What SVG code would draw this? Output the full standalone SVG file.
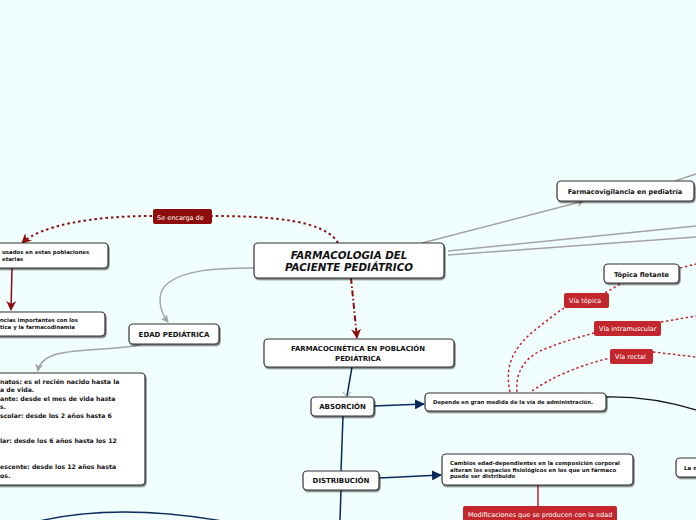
<svg xmlns="http://www.w3.org/2000/svg" width="696" height="520" viewBox="0 0 696 520">
<defs>
<style>
.node{fill:#ffffff;stroke:#333333;stroke-width:1.2;filter:url(#sh)}
.t{font-family:"DejaVu Sans",Verdana,sans-serif;font-weight:bold;fill:#111111}
.lbl{font-family:"DejaVu Sans",Verdana,sans-serif;fill:#ffffff;font-size:6.5px}
.gray{fill:none;stroke:#a3a3a3;stroke-width:1.5}
.navy{fill:none;stroke:#0b2a5b;stroke-width:1.5}
.dred{fill:none;stroke:#8e0c0c;stroke-width:2;stroke-dasharray:2.5 3}
.lred{fill:none;stroke:#c1272d;stroke-width:1.5;stroke-dasharray:2.5 2.5}
</style>
<filter id="sh" x="-10%" y="-20%" width="120%" height="150%">
<feDropShadow dx="1" dy="1.5" stdDeviation="0.6" flood-color="#000" flood-opacity="0.55"/>
</filter>
<marker id="ag" markerWidth="8" markerHeight="8" refX="7" refY="4" orient="auto" markerUnits="userSpaceOnUse"><path d="M0,0 L8,4 L0,8 L2,4 Z" fill="#a3a3a3"/></marker>
<marker id="an" markerWidth="10" markerHeight="10" refX="9" refY="5" orient="auto" markerUnits="userSpaceOnUse"><path d="M0,0 L10,5 L0,10 Z" fill="#0b2a5b"/></marker>
<marker id="ar" markerWidth="10" markerHeight="10" refX="9" refY="5" orient="auto" markerUnits="userSpaceOnUse"><path d="M0,0 L10,5 L0,10 L3,5 Z" fill="#8e0c0c"/></marker>
</defs>
<rect width="696" height="520" fill="#f0fefe"/>
<g id="connectors">
<path class="gray" d="M422,243 L584,201" marker-end="url(#ag)"/>
<path class="gray" d="M675,181 L696,174"/>
<path class="gray" d="M448,251 L696,226"/>
<path class="gray" d="M448,255 L696,237"/>
<path class="gray" d="M254,268 C215,268 185,270 168,283 C155,293 160,312 168,322" marker-end="url(#ag)"/>
<path class="gray" d="M140,345 C100,353 42,344 38,371" marker-end="url(#ag)"/>
<path class="dred" d="M338,243 C325,220 270,216 212,216"/>
<path class="dred" d="M152,216 C90,216 40,226 22,243" marker-end="url(#ar)"/>
<path d="M12,268 L11,310" fill="none" stroke="#8e0c0c" stroke-width="1.5" marker-end="url(#ar)"/>
<path d="M351,278 L357,338" fill="none" stroke="#8e0c0c" stroke-width="2" stroke-dasharray="6 2.5 1.5 2.5" marker-end="url(#ar)"/>
<path class="navy" d="M352,367 L347,396"/>
<path d="M343,392 L347,397 L351,392" fill="none" stroke="#a3a3a3" stroke-width="1"/>
<path class="navy" d="M374,406 L424,404" marker-end="url(#an)"/>
<path class="navy" d="M343,416 L341,471"/>
<path class="navy" d="M341,490 L340,520"/>
<path class="navy" d="M379,478 L441,475" marker-end="url(#an)"/>
<path class="navy" d="M35,522 Q117,502 228,522"/>
<path d="M606,397 Q650,396 696,410" fill="none" stroke="#111" stroke-width="1.3"/>
<path d="M538,485 L538,506" fill="none" stroke="#c1272d" stroke-width="1.5"/>
<path class="lred" d="M510,392 C505,370 510,350 535,330 C545,322 555,314 564,308"/>
<path class="lred" d="M605,293 L620,284"/>
<path class="lred" d="M680,268 L696,264"/>
<path class="lred" d="M517,392 C515,372 525,355 550,347 C565,341 580,337 594,333"/>
<path class="lred" d="M661,322 L696,316"/>
<path class="lred" d="M532,391 C550,378 580,365 610,358"/>
<path class="lred" d="M653,352 L696,357"/>
</g>
<g id="main"><rect class="node" x="254" y="243" width="190" height="35" rx="4"/>
<text class="t" font-size="10.3" font-style="italic" text-anchor="middle"><tspan x="349" y="259">FARMACOLOGIA DEL</tspan><tspan x="349" y="271">PACIENTE PEDIÁTRICO</tspan></text></g>
<g id="se-encarga"><rect x="153" y="209" width="59" height="15" rx="2" fill="#8e0c0c"/><text class="lbl" x="157" y="219.5">Se encarga de</text></g>
<g id="n-usados"><rect class="node" x="-10" y="243" width="118" height="25" rx="4"/>
<text class="t" font-size="5.4"><tspan x="2" y="254">usados en estas poblaciones</tspan><tspan x="2" y="260.5">etarias</tspan></text></g>
<g id="n-ncias"><rect class="node" x="-10" y="312" width="115" height="24" rx="4"/>
<text class="t" font-size="5.4"><tspan x="0" y="322">ncias importantes con los</tspan><tspan x="0" y="328.5">tica y la farmacodinamia</tspan></text></g>
<g id="edad"><rect class="node" x="129" y="324" width="90" height="20" rx="4"/><text class="t" font-size="7" x="174" y="337" text-anchor="middle">EDAD PEDIÁTRICA</text></g>
<g id="edades"><rect class="node" x="-10" y="373" width="155" height="112" rx="4"/>
<text class="t" font-size="6.2"><tspan x="0" y="384">natos: es el recién nacido hasta la</tspan><tspan x="0" y="392">a de vida.</tspan><tspan x="0" y="401">ante: desde el mes de vida hasta</tspan><tspan x="0" y="409">s.</tspan><tspan x="0" y="418">scolar: desde los 2 años hasta 6</tspan><tspan x="0" y="443">lar: desde los 6 años hasta los 12</tspan><tspan x="0" y="469">escente: desde los 12 años hasta</tspan><tspan x="0" y="478">os.</tspan></text></g>
<g id="farmacocinetica"><rect class="node" x="264" y="339" width="190" height="28" rx="4"/>
<text class="t" font-size="6.9" text-anchor="middle"><tspan x="358" y="351">FARMACOCINÉTICA EN POBLACIÓN</tspan><tspan x="358" y="360.5">PEDIÁTRICA</tspan></text></g>
<g id="absorcion"><rect class="node" x="311" y="397" width="63" height="19" rx="4"/><text class="t" font-size="7" x="342.5" y="409" text-anchor="middle">ABSORCIÓN</text></g>
<g id="distribucion"><rect class="node" x="303" y="471" width="76" height="19" rx="4"/><text class="t" font-size="7" x="341" y="483" text-anchor="middle">DISTRIBUCIÓN</text></g>
<g id="depende"><rect class="node" x="425" y="393" width="181" height="18" rx="4"/><text class="t" font-size="5.3" x="433" y="404">Depende en gran medida de la vía de administración.</text></g>
<g id="cambios"><rect class="node" x="442" y="454" width="191" height="31" rx="4"/>
<text class="t" font-size="5.4"><tspan x="450" y="465">Cambios edad-dependientes en la composición corporal</tspan><tspan x="450" y="471.5">alteran los espacios fisiológicos en los que un fármaco</tspan><tspan x="450" y="478">puede ser distribuido</tspan></text></g>
<g id="modificaciones"><rect x="463" y="506" width="154" height="20" rx="2" fill="#c1272d"/><text class="lbl" font-size="6.4" x="468" y="516.5">Modificaciones que se producen con la edad</text></g>
<g id="la-m"><rect class="node" x="676" y="458" width="40" height="19" rx="4"/><text class="t" font-size="5.5" x="684" y="469.5">La m</text></g>
<g id="farmacovigilancia"><rect class="node" x="557" y="181" width="137" height="20" rx="4"/><text class="t" font-size="6.6" x="625" y="193.5" text-anchor="middle">Farmacovigilancia en pediatría</text></g>
<g id="topica-flotante"><rect class="node" x="604" y="264" width="75" height="19" rx="4"/><text class="t" font-size="6.6" x="641.5" y="276.5" text-anchor="middle">Tópica flotante</text></g>
<g id="via-topica"><rect x="564" y="293" width="45" height="15" rx="2" fill="#c1272d"/><text class="lbl" x="569" y="303">Vía tópica</text></g>
<g id="via-intramuscular"><rect x="594" y="321" width="67" height="15" rx="2" fill="#c1272d"/><text class="lbl" x="599" y="331">Vía intramuscular</text></g>
<g id="via-rectal"><rect x="610" y="349" width="43" height="15" rx="2" fill="#c1272d"/><text class="lbl" x="615" y="359">Vía rectal</text></g>
</svg>
